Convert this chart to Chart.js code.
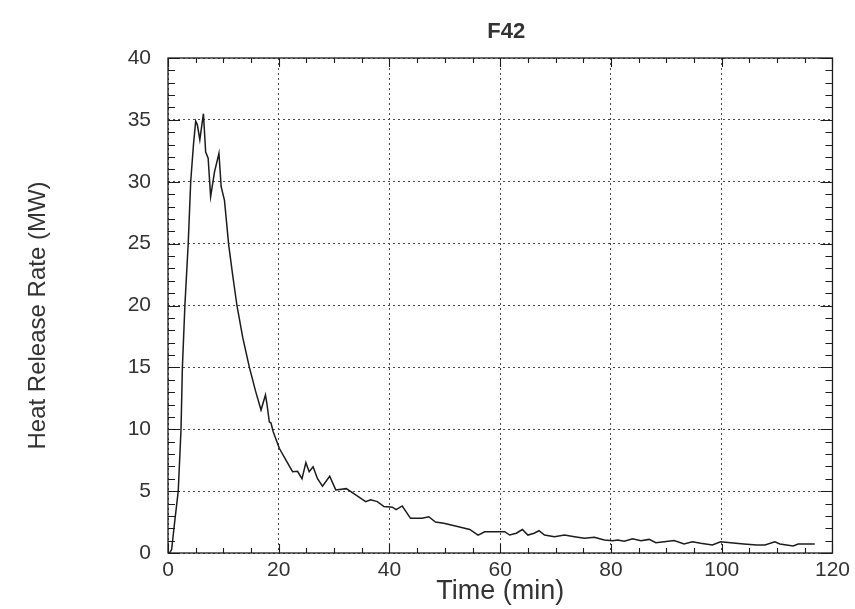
<!DOCTYPE html>
<html>
<head>
<meta charset="utf-8">
<title>F42 Heat Release Rate</title>
<script src="https://cdn.jsdelivr.net/npm/chart.js@4/dist/chart.umd.min.js"></script>
<style>
  html, body { margin: 0; padding: 0; background: #ffffff; }
  #wrap { width: 855px; height: 609px; }
</style>
</head>
<body>
<div id="wrap"><canvas id="hrr" width="855" height="609"></canvas></div>
<script>
// Test F42: heat release rate over time
const chartTitle = 'F42';
const xTitle = 'Time (min)';
const yTitle = 'Heat Release Rate (MW)';

const timeMin = [
  0.3, 0.66, 1.2, 1.85, 2.35, 2.6, 3.05, 3.65, 4.1, 4.6, 5.0, 5.3, 5.75, 6.4, 6.8, 7.25, 7.7,
  8.4, 9.2, 9.6, 10.2, 10.96, 11.7, 12.45, 13.5, 14.7, 15.8, 16.8, 17.6, 17.85, 18.3, 18.6,
  19.0, 20.1, 21.3, 22.5, 23.4, 24.2, 24.9, 25.5, 26.2, 27.0, 27.9, 29.2, 30.3, 32.2, 33.9,
  35.7, 36.6, 37.8, 39.0, 40.5, 41.2, 42.3, 43.8, 45.9, 47.1, 48.3, 49.8, 51.9, 54.5, 56.0,
  57.2, 60.8, 61.7, 62.9, 64.0, 65.0, 66.1, 67.0, 68.0, 69.8, 71.6, 73.4, 75.2, 77.0, 78.8,
  80.3, 81.2, 82.4, 83.9, 85.4, 86.9, 88.1, 89.6, 91.4, 93.2, 94.7, 96.2, 98.3, 99.8, 101.6,
  104.0, 106.3, 107.8, 109.6, 110.5, 111.7, 112.9, 113.8, 116.8
];
const hrrMW = [
  0.0, 0.3, 2.5, 5.0, 10.0, 15.0, 20.0, 25.0, 30.0, 33.0, 34.9, 34.6, 33.4, 35.5, 32.4, 31.9, 28.8,
  30.8, 32.3, 29.6, 28.5, 24.9, 22.4, 20.0, 17.4, 15.0, 13.1, 11.55, 12.77, 12.1, 10.6, 10.5,
  9.8, 8.46, 7.5, 6.57, 6.6, 6.0, 7.3, 6.57, 6.97, 6.0, 5.4, 6.2, 5.1, 5.2, 4.7,
  4.15, 4.3, 4.15, 3.75, 3.7, 3.5, 3.8, 2.8, 2.8, 2.93, 2.5, 2.4, 2.18, 1.9, 1.45,
  1.72, 1.72, 1.45, 1.6, 1.9, 1.45, 1.6, 1.8, 1.45, 1.32, 1.45, 1.32, 1.19, 1.27, 1.05,
  1.0, 1.05, 0.95, 1.15, 1.0, 1.1, 0.83, 0.9, 1.0, 0.73, 0.9, 0.78, 0.65, 0.9, 0.83,
  0.73, 0.65, 0.65, 0.9, 0.73, 0.65, 0.57, 0.73, 0.73
];

// Axis ranges and tick spacing
const xRange = [0, 120];
const xMajor = 20, xMinor = 5;
const yRange = [0, 40];
const yMajor = 5, yMinor = 1;

const points = timeMin.map((t, i) => ({ x: t, y: hrrMW[i] }));

const FONT = "'Liberation Sans', Arial, Helvetica, sans-serif";
const INK = '#1c1c1c';
const TEXT = '#333333';

// Solid frame on all four sides with inward-pointing major and minor ticks
const frameTicks = {
  id: 'frameTicks',
  afterDatasetsDraw(chart) {
    const { ctx, chartArea: a, scales: { x, y } } = chart;
    ctx.save();
    ctx.strokeStyle = INK;
    ctx.lineWidth = 1.3;
    ctx.strokeRect(a.left, a.top, a.right - a.left, a.bottom - a.top);
    ctx.lineWidth = 1.1;
    ctx.beginPath();
    for (let v = xRange[0]; v <= xRange[1] + 1e-9; v += xMinor) {
      const px = Math.round(x.getPixelForValue(v)) + 0.5;
      const len = v % xMajor === 0 ? 9 : 5;
      ctx.moveTo(px, a.bottom); ctx.lineTo(px, a.bottom - len);
      ctx.moveTo(px, a.top); ctx.lineTo(px, a.top + len);
    }
    for (let v = yRange[0]; v <= yRange[1] + 1e-9; v += yMinor) {
      const py = Math.round(y.getPixelForValue(v)) + 0.5;
      const len = v % yMajor === 0 ? 12 : 7;
      ctx.moveTo(a.left, py); ctx.lineTo(a.left + len, py);
      ctx.moveTo(a.right, py); ctx.lineTo(a.right - len, py);
    }
    ctx.stroke();
    ctx.restore();
  }
};

// Chart title over the plot area and the rotated value-axis title
const titles = {
  id: 'titles',
  afterDraw(chart) {
    const { ctx, chartArea: a } = chart;
    ctx.save();
    ctx.fillStyle = TEXT;
    ctx.textAlign = 'center';
    ctx.textBaseline = 'middle';
    ctx.font = `bold 22px ${FONT}`;
    ctx.fillText(chartTitle, (a.left + a.right) / 2 + 6, 32);
    ctx.translate(38, (a.top + a.bottom) / 2 + 10);
    ctx.rotate(-Math.PI / 2);
    ctx.font = `24px ${FONT}`;
    ctx.fillText(yTitle, 0, 0);
    ctx.restore();
  }
};

new Chart(document.getElementById('hrr'), {
  type: 'line',
  data: {
    datasets: [{
      data: points,
      borderColor: INK,
      borderWidth: 1.5,
      pointRadius: 0,
      tension: 0,
      fill: false
    }]
  },
  options: {
    responsive: false,
    animation: false,
    devicePixelRatio: 1,
    layout: { padding: { left: 14, right: 19, top: 58, bottom: 0 } },
    plugins: {
      legend: { display: false },
      tooltip: { enabled: false },
      title: { display: false }
    },
    scales: {
      x: {
        type: 'linear',
        min: xRange[0],
        max: xRange[1],
        afterFit(scale) { scale.height = 56; },
        ticks: {
          stepSize: xMajor,
          color: TEXT,
          padding: 5,
          maxRotation: 0,
          font: { family: FONT, size: 21 }
        },
        grid: { color: '#4a4a4a', lineWidth: 1, drawTicks: false },
        border: { display: false, dash: [2, 3] },
        title: {
          display: true,
          text: xTitle,
          color: TEXT,
          font: { family: FONT, size: 27 },
          padding: { top: 0, bottom: 1 }
        }
      },
      y: {
        min: yRange[0],
        max: yRange[1],
        afterFit(scale) { scale.width = 154; },
        ticks: {
          stepSize: yMajor,
          color: TEXT,
          padding: 17,
          font: { family: FONT, size: 21 }
        },
        grid: { color: '#4a4a4a', lineWidth: 1, drawTicks: false },
        border: { display: false, dash: [2, 3] },
        title: { display: false }
      }
    }
  },
  plugins: [frameTicks, titles]
});
</script>
</body>
</html>
